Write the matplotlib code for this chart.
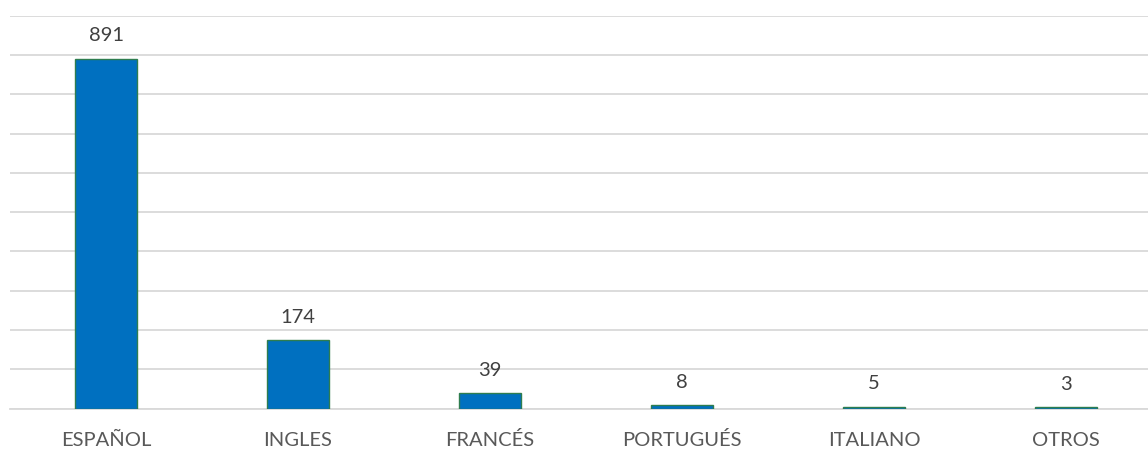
import matplotlib
matplotlib.use("Agg")
import matplotlib.pyplot as plt
from matplotlib.ticker import MultipleLocator

categories = ["ESPAÑOL", "INGLES", "FRANCÉS", "PORTUGUÉS", "ITALIANO", "OTROS"]
values = [891, 174, 39, 8, 5, 3]

W, H = 1148, 450
fig = plt.figure(figsize=(W / 100, H / 100), dpi=100)
ax = fig.add_axes([10 / W, (450 - 408.5) / H, 1152 / W, (408.5 - 15.7) / H])

text_color = "#595959"
font = "Lato"
fs = 14.5

x = range(len(categories))
bars = ax.bar(x, values, width=0.32, color="#0070C0", edgecolor="#2E7D4F", linewidth=1.0, zorder=3)
ax.set_xlim(-0.5, len(categories) - 0.5)
ax.set_ylim(0, 1000)
ax.yaxis.set_major_locator(MultipleLocator(100))
ax.grid(axis="y", color="#D9D9D9", linewidth=1.3, zorder=0)
ax.set_axisbelow(True)
for s in ["top", "right", "left"]:
    ax.spines[s].set_visible(False)
ax.spines["bottom"].set_color("#D9D9D9")
ax.spines["bottom"].set_linewidth(1.3)
ax.tick_params(axis="y", left=False, labelleft=False)
ax.tick_params(axis="x", length=0, pad=27)
ax.set_xticks(list(x))
ax.set_xticklabels(categories, fontsize=fs, color=text_color, family=font)
for lbl in ax.get_xticklabels():
    lbl.set_verticalalignment("baseline")

for xi, v in zip(x, values):
    ax.annotate(str(v), (xi, v), xytext=(0, 12.7), textcoords="offset points",
                ha="center", va="baseline", fontsize=fs, color="#404040", family=font)

fig.savefig("out.png", dpi=100)
